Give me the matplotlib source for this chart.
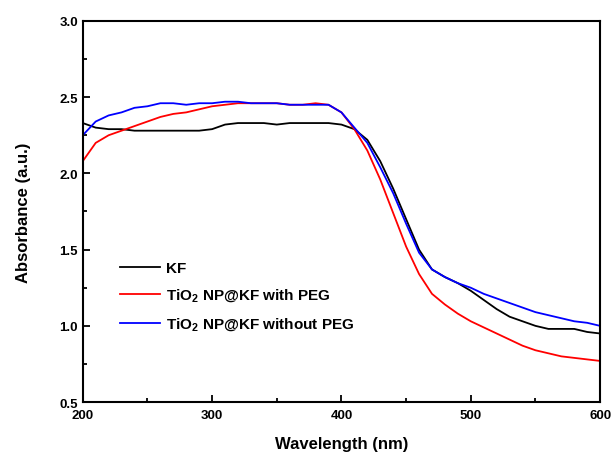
import numpy as np
import matplotlib.pyplot as plt
from matplotlib.ticker import MultipleLocator

plt.rcParams['font.family'] = ['Liberation Sans', 'DejaVu Sans']
plt.rcParams['font.weight'] = 'bold'

wl = [200, 210, 220, 230, 240, 250, 260, 270, 280, 290, 300, 310, 320, 330, 340,
      350, 360, 370, 380, 390, 400, 410, 420, 430, 440, 450, 460, 470, 480, 490,
      500, 510, 520, 530, 540, 550, 560, 570, 580, 590, 600]

kf = [2.33, 2.30, 2.29, 2.29, 2.28, 2.28, 2.28, 2.28, 2.28, 2.28, 2.29, 2.32, 2.33,
      2.33, 2.33, 2.32, 2.33, 2.33, 2.33, 2.33, 2.32, 2.29, 2.22, 2.08, 1.90, 1.70,
      1.50, 1.37, 1.32, 1.28, 1.23, 1.17, 1.11, 1.06, 1.03, 1.00, 0.98, 0.98, 0.98,
      0.96, 0.95]

peg = [2.08, 2.20, 2.25, 2.28, 2.31, 2.34, 2.37, 2.39, 2.40, 2.42, 2.44, 2.45, 2.46,
       2.46, 2.46, 2.46, 2.45, 2.45, 2.46, 2.45, 2.40, 2.29, 2.15, 1.96, 1.74, 1.52,
       1.34, 1.21, 1.14, 1.08, 1.03, 0.99, 0.95, 0.91, 0.87, 0.84, 0.82, 0.80, 0.79,
       0.78, 0.77]

nopeg = [2.25, 2.34, 2.38, 2.40, 2.43, 2.44, 2.46, 2.46, 2.45, 2.46, 2.46, 2.47, 2.47,
         2.46, 2.46, 2.46, 2.45, 2.45, 2.45, 2.45, 2.40, 2.30, 2.20, 2.04, 1.87, 1.67,
         1.48, 1.37, 1.32, 1.28, 1.25, 1.21, 1.18, 1.15, 1.12, 1.09, 1.07, 1.05, 1.03,
         1.02, 1.00]

fig = plt.figure(figsize=(6.13, 4.56), dpi=100)
ax = fig.add_axes([0.135, 0.116, 0.844, 0.836])

ax.plot(wl, kf, color='black', lw=1.3, label='KF')
ax.plot(wl, peg, color='#ff0000', lw=1.3, label='TiO$_\\mathregular{2}$ NP@KF with PEG')
ax.plot(wl, nopeg, color='#0000ff', lw=1.3, label='TiO$_\\mathregular{2}$ NP@KF without PEG')

ax.set_xlim(200, 600)
ax.set_ylim(0.5, 3.0)
ax.xaxis.set_major_locator(MultipleLocator(100))
ax.xaxis.set_minor_locator(MultipleLocator(50))
ax.yaxis.set_major_locator(MultipleLocator(0.5))
ax.yaxis.set_minor_locator(MultipleLocator(0.25))
ax.tick_params(which='both', direction='in', width=1.3, labelsize=9.5)
ax.tick_params(which='major', length=5)
ax.tick_params(which='minor', length=3)
ax.tick_params(axis='x', pad=5)
for s in ax.spines.values():
    s.set_linewidth(1.5)

ax.set_xlabel('Wavelength (nm)', fontsize=12, fontweight='bold', labelpad=11)
ax.set_ylabel('Absorbance (a.u.)', fontsize=12, fontweight='bold', labelpad=20)

ax.legend(loc='upper left', bbox_to_anchor=(0.06, 0.385), frameon=False,
          fontsize=11, handlelength=2.6, handletextpad=0.4, labelspacing=0.75,
          borderaxespad=0)

fig.savefig('out.png', dpi=100)
